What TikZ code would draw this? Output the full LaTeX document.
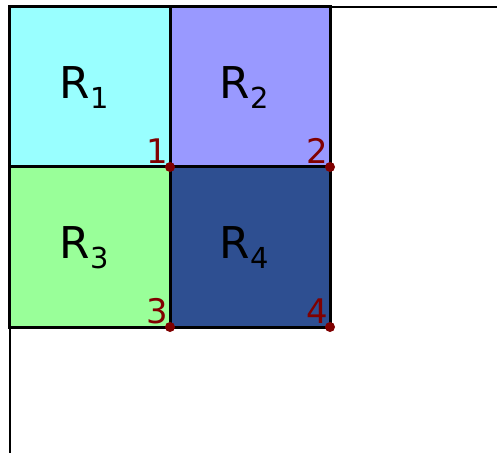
\documentclass[tikz,border=0pt]{standalone}
\usepackage{fontspec}
\setmainfont{DejaVu Sans}
\usepackage{tikz}
\usetikzlibrary{positioning}
\definecolor{paleaqua}{rgb}{0.60, 1.00, 1.00}
\definecolor{palelavender}{rgb}{0.60, 0.60, 1.00}
\definecolor{palelime}{rgb}{0.60, 1.00, 0.60}
\definecolor{deepcobalt}{rgb}{0.18, 0.31, 0.57}
\definecolor{cornerred}{rgb}{0.50, 0.00, 0.00}
\newcommand{\regidx}[1]{\raisebox{-10bp}{\fontsize{29}{29}\selectfont #1}}
\tikzset{
  region/.style={
    draw=black,
    line width=3bp,
    minimum width=160bp,
    minimum height=160bp,
    inner sep=0pt,
    outer sep=0pt
  },
  regname/.style={
    inner sep=0pt,
    font=\fontsize{44}{48}\selectfont
  },
  axis/.style={
    draw=black,
    line width=2bp
  },
  corner/.style={
    circle,
    fill=cornerred,
    inner sep=0pt,
    minimum size=10bp
  },
  tag/.style={
    anchor=south east,
    inner sep=0pt,
    text=cornerred,
    font=\fontsize{34}{38}\selectfont
  }
}

\begin{document}
\begin{tikzpicture}[x=1bp,y=-1bp]
\useasboundingbox (0,0) rectangle (497,453);
\coordinate (origin) at (10,7);
\coordinate (xend) at (497,7);
\coordinate (yend) at (10,453);
\draw[axis] (xend) -- (origin) -- (yend);
\node[region, fill=paleaqua] (r1) at (90,87) {};
\node[region, fill=palelavender, anchor=west] (r2) at (r1.east) {};
\node[region, fill=palelime, anchor=north] (r3) at (r1.south) {};
\node[region, fill=deepcobalt, anchor=west] (r4) at (r3.east) {};
\foreach \i in {1,...,4}{
  \node[regname] (n\i) at ([xshift=-6bp,yshift=-1bp]r\i.center) {R\regidx{\i}};
  \node[corner] (c\i) at (r\i.south east) {};
  \node[tag] (t\i) at ([xshift=-2bp,yshift=3bp]c\i.center) {\i};
}
\end{tikzpicture}
\end{document}
